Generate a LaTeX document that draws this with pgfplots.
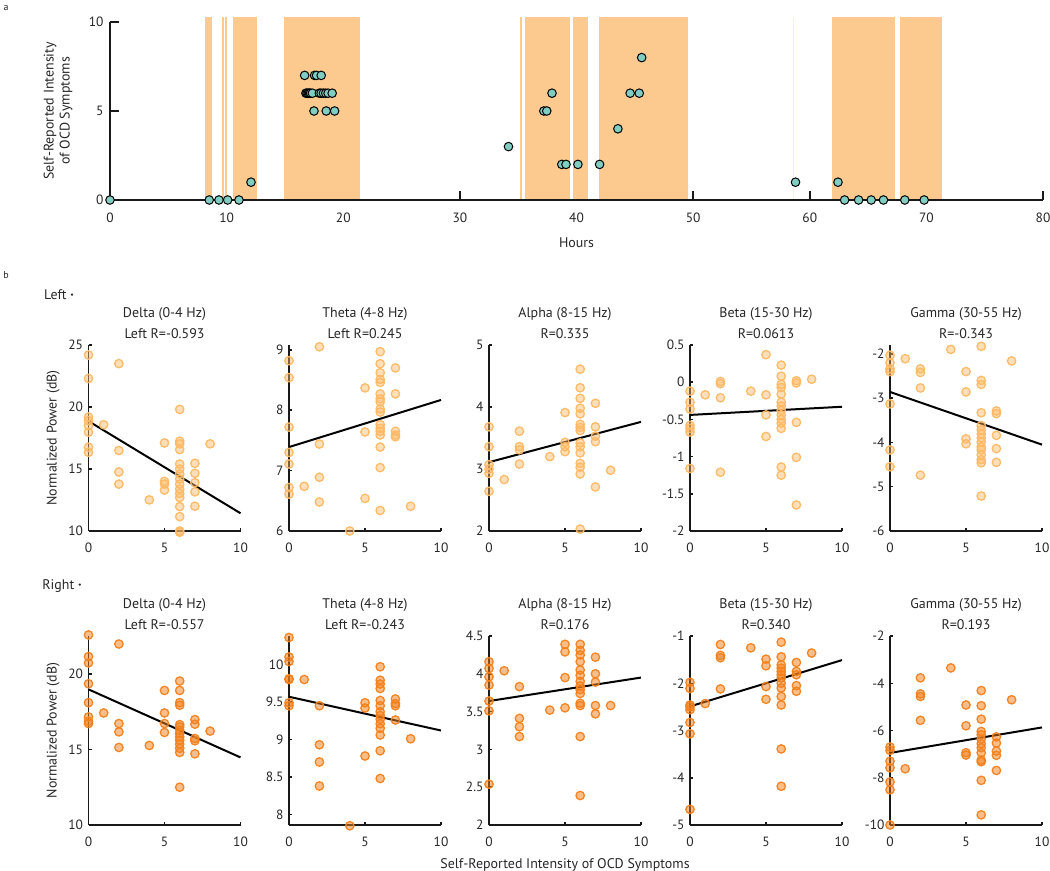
\documentclass[border=0pt]{standalone}
\usepackage{fontspec}
\setmainfont{PT Sans}
\usepackage{pgfplots}
\pgfplotsset{compat=1.18}
\definecolor{shadeC}{RGB}{252,201,142}
\definecolor{tealC}{RGB}{128,205,193}
\definecolor{lor}{RGB}{253,184,99}
\definecolor{dor}{RGB}{242,128,28}
\definecolor{txt}{RGB}{38,38,38}
\pgfplotsset{
  base/.style={scale only axis, axis lines=left, axis line style={-, line width=1.8bp, black!90},
    tick align=inside, tick style={line width=1.5bp, black!90}, clip=false,
    /pgf/number format/assume math mode=true,
    ticklabel style={font=\fontsize{13.5}{15}\selectfont, text=txt},
    label style={font=\fontsize{14}{16}\selectfont, text=txt}},
  panel/.style={base, width=152bp, xmin=0, xmax=10, xtick={0,5,10}, major tick length=3bp,
    xticklabel style={yshift=-8.5bp}, yticklabel style={xshift=-2bp},
    title style={font=\fontsize{14}{21}\selectfont, text=txt, align=center, at={(0.5,1)}, anchor=center, yshift=16bp}},
  row1/.style={panel, height=186bp},
  row2/.style={panel, height=189bp},
  lm/.style={only marks, mark=*, mark size=4.2bp, mark options={draw=lor, fill=lor, fill opacity=0.45, draw opacity=0.95, line width=1.3bp}},
  rm/.style={only marks, mark=*, mark size=4.2bp, mark options={draw=dor, fill=dor, fill opacity=0.5, draw opacity=0.95, line width=1.3bp}},
  fit/.style={black, line width=2bp},
  ylab/.style={ylabel={Normalized Power (dB)}, ylabel style={at={(axis description cs:-0.232,0.5)}, anchor=center}},
  sh/.style={fill=shadeC, draw=none},
}
\begin{document}
\begin{tikzpicture}
\path[use as bounding box] (0,0) rectangle (1050bp,871bp);
% ---------------- panel a ----------------
\begin{axis}[base, at={(110bp,671bp)}, anchor=south west, width=933bp, height=178bp,
  xmin=0, xmax=80, ymin=0, ymax=10, xtick={0,10,...,80}, ytick={0,5,10}, major tick length=9bp,
  xticklabel style={yshift=-9bp}, yticklabel style={xshift=-3bp},
  xlabel={Hours}, xlabel style={at={(axis description cs:0.5,-0.2416)}, anchor=center},
  ylabel={Self-Reported Intensity\\of OCD Symptoms},
  ylabel style={align=center, at={(axis description cs:-0.0557,0.5)}, anchor=center}]
\addplot[sh] coordinates {(8.11,0.06) (8.11,10.3) (8.71,10.3) (8.71,0.06)} -- cycle;
\addplot[sh] coordinates {(9.6,0.06) (9.6,10.3) (9.77,10.3) (9.77,0.06)} -- cycle;
\addplot[sh] coordinates {(9.89,0.06) (9.89,10.3) (10.06,10.3) (10.06,0.06)} -- cycle;
\addplot[sh] coordinates {(10.51,0.06) (10.51,10.3) (12.6,10.3) (12.6,0.06)} -- cycle;
\addplot[sh] coordinates {(14.91,0.06) (14.91,10.3) (21.46,10.3) (21.46,0.06)} -- cycle;
\addplot[sh] coordinates {(35.16,0.06) (35.16,10.3) (35.31,10.3) (35.31,0.06)} -- cycle;
\addplot[sh] coordinates {(35.61,0.06) (35.61,10.3) (39.47,10.3) (39.47,0.06)} -- cycle;
\addplot[sh] coordinates {(39.67,0.06) (39.67,10.3) (41.0,10.3) (41.0,0.06)} -- cycle;
\addplot[sh] coordinates {(41.92,0.06) (41.92,10.3) (49.56,10.3) (49.56,0.06)} -- cycle;
\addplot[sh, fill opacity=0.3] coordinates {(58.6,0.06) (58.6,10.3) (58.68,10.3) (58.68,0.06)} -- cycle;
\addplot[sh] coordinates {(61.93,0.06) (61.93,10.3) (67.31,10.3) (67.31,0.06)} -- cycle;
\addplot[sh] coordinates {(67.73,0.06) (67.73,10.3) (71.37,10.3) (71.37,0.06)} -- cycle;
\addplot[only marks, mark=*, mark size=4.3bp, mark options={fill=tealC, draw=black, line width=1bp}] table {
x y
0 0
8.51 0
9.34 0
10.09 0
11.06 0
12.09 1
16.8 6
16.9 6
17.0 6
17.1 6
17.2 6
17.35 6
17.95 6
18.1 6
18.3 6
18.5 6
18.7 6
19.05 6
16.69 7
17.54 7
17.71 7
18.11 7
17.49 5
18.54 5
19.26 5
34.17 3
37.2 5
37.45 5
37.9 6
38.74 2
39.1 2
40.12 2
41.98 2
43.55 4
44.6 6
45.38 6
45.59 8
58.78 1
62.42 1
62.99 0
64.19 0
65.27 0
66.32 0
68.15 0
69.81 0
};
\end{axis}
% ---------------- row 1 (Left) ----------------
\begin{axis}[row1, ylab, at={(88.5bp,340bp)}, anchor=south west, ymin=10, ymax=25, ytick={10,15,20,25},
  title={Delta (0-4 Hz)\\Left R=-0.593}]
\addplot[lm] table {
x y
0 24.19
0 22.3
0 19.19
0 18.9
0 18.5
0 17.97
0 16.76
0 16.35
1 18.57
2 23.5
2 16.49
2 14.76
2 13.78
4 12.51
5 17.1
5 14.0
5 13.78
5 13.3
6 19.81
6 17.24
6 17.03
6 16.57
6 15.4
6 15.0
6 14.6
6 14.19
6 13.78
6 13.38
6 13.03
6 12.7
6 11.97
6 11.16
6 10.0
6 9.9
7 15.46
7 14.65
7 13.89
7 13.16
7 12.0
8 17.03
};
\addplot[fit] coordinates {(0,18.86) (10,11.43)};
\end{axis}
\begin{axis}[row1, at={(289bp,340bp)}, anchor=south west, ymin=6, ymax=9.08, ytick={6,7,8,9},
  title={Theta (4-8 Hz)\\Left R=0.245}]
\addplot[lm] table {
x y
0 8.82
0 8.54
0 7.72
0 7.30
0 7.11
0 6.72
0 6.61
1 6.74
2 9.05
2 7.44
2 6.89
2 6.48
4 6.0
5 8.37
5 7.64
5 6.54
6 8.97
6 8.77
6 8.62
6 8.51
6 8.46
6 8.27
6 8.19
6 8.14
6 8.02
6 7.97
6 7.76
6 7.70
6 7.65
6 7.59
6 7.39
6 7.05
6 6.34
7 8.70
7 8.27
7 7.65
7 7.59
7 7.56
8 6.41
};
\addplot[fit] coordinates {(0,7.39) (10,8.17)};
\end{axis}
\begin{axis}[row1, at={(489bp,340bp)}, anchor=south west, ymin=2, ymax=5, ytick={2,3,4,5},
  title={Alpha (8-15 Hz)\\R=0.335}]
\addplot[lm] table {
x y
0 3.68
0 3.36
0 3.07
0 3.0
0 2.93
0 2.64
1 2.83
2 3.61
2 3.36
2 3.31
2 3.08
4 3.20
5 3.91
5 3.43
5 3.36
5 3.28
6 4.61
6 4.31
6 4.14
6 3.98
6 3.89
6 3.72
6 3.67
6 3.62
6 3.42
6 3.36
6 3.26
6 3.09
6 3.03
6 2.92
6 2.03
7 4.06
7 3.68
7 3.53
7 3.44
7 2.71
8 2.98
};
\addplot[fit] coordinates {(0,3.11) (10,3.76)};
\end{axis}
\begin{axis}[row1, at={(690bp,340bp)}, anchor=south west, ymin=-2, ymax=0.5, ytick={-2,-1.5,-1,-0.5,0,0.5},
  title={Beta (15-30 Hz)\\R=0.0613}]
\addplot[lm] table {
x y
0 -0.12
0 -0.27
0 -0.36
0 -0.58
0 -0.62
0 -0.67
0 -1.16
1 -0.17
2 0.01
2 -0.02
2 -0.21
2 -1.21
4 -0.12
5 0.37
5 -0.17
5 -0.44
5 -0.73
6 0.23
6 0.08
6 -0.03
6 -0.07
6 -0.16
6 -0.27
6 -0.32
6 -0.38
6 -0.44
6 -0.50
6 -0.55
6 -0.62
6 -1.14
6 -1.25
7 0.02
7 -0.01
7 -0.54
7 -1.01
7 -1.65
8 0.04
};
\addplot[fit] coordinates {(0,-0.44) (10,-0.33)};
\end{axis}
\begin{axis}[row1, at={(890bp,340bp)}, anchor=south west, ymin=-6, ymax=-1.8, ytick={-6,-5,-4,-3,-2},
  title={Gamma (30-55 Hz)\\R=-0.343}]
\addplot[lm] table {
x y
0 -2.03
0 -2.20
0 -2.34
0 -2.40
0 -3.13
0 -4.17
0 -4.55
1 -2.11
2 -2.34
2 -2.42
2 -2.77
2 -4.74
4 -1.90
5 -2.40
5 -2.86
5 -3.92
5 -4.03
6 -1.83
6 -2.60
6 -2.69
6 -3.33
6 -3.62
6 -3.72
6 -3.81
6 -3.90
6 -3.99
6 -4.10
6 -4.17
6 -4.28
6 -4.39
6 -4.46
6 -5.21
7 -3.29
7 -3.35
7 -3.84
7 -4.14
7 -4.45
8 -2.16
};
\addplot[fit] coordinates {(0,-2.86) (10,-4.05)};
\end{axis}
% ---------------- row 2 (Right) ----------------
\begin{axis}[row2, ylab, at={(88.5bp,46bp)}, anchor=south west, ymin=10, ymax=22.5, ytick={10,15,20},
  title={Delta (0-4 Hz)\\Left R=-0.557}]
\addplot[rm] table {
x y
0 22.57
0 21.14
0 20.72
0 19.34
0 18.09
0 17.15
0 16.86
0 16.71
1 17.41
2 21.97
2 16.71
2 16.16
2 15.13
4 15.26
5 18.9
5 17.41
5 16.71
5 16.12
6 19.52
6 18.9
6 18.09
6 17.92
6 16.64
6 16.49
6 16.27
6 16.05
6 15.83
6 15.61
6 15.35
6 15.07
6 14.8
6 12.5
7 16.97
7 16.67
7 15.72
7 15.57
7 14.71
8 16.21
};
\addplot[fit] coordinates {(0,18.97) (10,14.47)};
\end{axis}
\begin{axis}[row2, at={(289bp,46bp)}, anchor=south west, ymin=7.86, ymax=10.38, ytick={8,8.5,9,9.5,10},
  title={Theta (4-8 Hz)\\Left R=-0.243}]
\addplot[rm] table {
x y
0 10.36
0 10.10
0 10.04
0 9.81
0 9.80
0 9.49
0 9.45
1 9.80
2 9.45
2 8.93
2 8.70
2 8.38
4 7.85
5 9.49
5 9.42
5 8.78
6 9.97
6 9.79
6 9.74
6 9.68
6 9.52
6 9.45
6 9.37
6 9.32
6 9.27
6 9.21
6 9.15
6 9.06
6 8.85
6 8.48
7 9.54
7 9.48
7 9.45
7 9.26
8 9.01
};
\addplot[fit] coordinates {(0,9.57) (10,9.12)};
\end{axis}
\begin{axis}[row2, at={(489bp,46bp)}, anchor=south west, ymin=2, ymax=4.5, ytick={2,2.5,3,3.5,4,4.5},
  title={Alpha (8-15 Hz)\\R=0.176}]
\addplot[rm] table {
x y
0 4.16
0 4.07
0 3.96
0 3.85
0 3.64
0 3.51
0 2.54
1 4.04
2 3.83
2 3.41
2 3.30
2 3.17
4 3.52
5 4.39
5 4.29
5 3.95
5 3.55
6 4.39
6 4.31
6 4.25
6 4.16
6 4.05
6 3.98
6 3.90
6 3.84
6 3.79
6 3.74
6 3.61
6 3.58
6 3.17
6 2.39
7 4.22
7 4.00
7 3.89
7 3.58
7 3.47
8 3.58
};
\addplot[fit] coordinates {(0,3.64) (10,3.95)};
\end{axis}
\begin{axis}[row2, at={(690bp,46bp)}, anchor=south west, ymin=-5, ymax=-1, ytick={-5,-4,-3,-2,-1},
  title={Beta (15-30 Hz)\\R=0.340}]
\addplot[rm] table {
x y
0 -1.98
0 -2.11
0 -2.46
0 -2.50
0 -2.56
0 -2.83
0 -3.07
0 -4.67
1 -2.43
2 -1.18
2 -1.41
2 -1.46
2 -2.12
4 -1.25
5 -1.49
5 -1.63
5 -2.07
5 -2.34
6 -1.13
6 -1.44
6 -1.61
6 -1.68
6 -1.75
6 -1.82
6 -1.89
6 -2.00
6 -2.10
6 -2.28
6 -2.46
6 -3.39
6 -4.18
7 -1.56
7 -1.75
7 -1.82
7 -2.05
7 -2.17
8 -1.36
};
\addplot[fit] coordinates {(0,-2.49) (10,-1.51)};
\end{axis}
\begin{axis}[row2, at={(890bp,46bp)}, anchor=south west, ymin=-10, ymax=-2, ytick={-10,-8,-6,-4,-2},
  title={Gamma (30-55 Hz)\\R=0.193}]
\addplot[rm] table {
x y
0 -6.70
0 -6.84
0 -7.30
0 -7.58
0 -8.18
0 -8.51
0 -10.0
1 -7.62
2 -3.77
2 -4.45
2 -4.56
2 -5.57
4 -3.35
5 -4.92
5 -5.80
5 -6.94
5 -7.04
6 -4.31
6 -4.95
6 -5.52
6 -6.04
6 -6.18
6 -6.37
6 -6.56
6 -6.73
6 -6.94
6 -7.25
6 -7.32
6 -8.11
6 -9.57
7 -6.27
7 -6.53
7 -6.87
7 -7.05
7 -7.69
8 -4.70
};
\addplot[fit] coordinates {(0,-6.95) (10,-5.87)};
\end{axis}
% ---------------- annotations ----------------
\node[font=\fontsize{10}{12}\selectfont, text=txt] at (6bp,863bp) {a};
\node[font=\fontsize{10}{12}\selectfont, text=txt] at (6bp,596bp) {b};
\node[font=\fontsize{14}{16}\selectfont, text=txt] at (59bp,576bp) {Left \textbf{·}};
\node[font=\fontsize{14}{16}\selectfont, text=txt] at (62bp,285bp) {Right \textbf{·}};
\node[font=\fontsize{14}{16}\selectfont, text=txt] at (565bp,6.5bp) {Self-Reported Intensity of OCD Symptoms};
\end{tikzpicture}
\end{document}
